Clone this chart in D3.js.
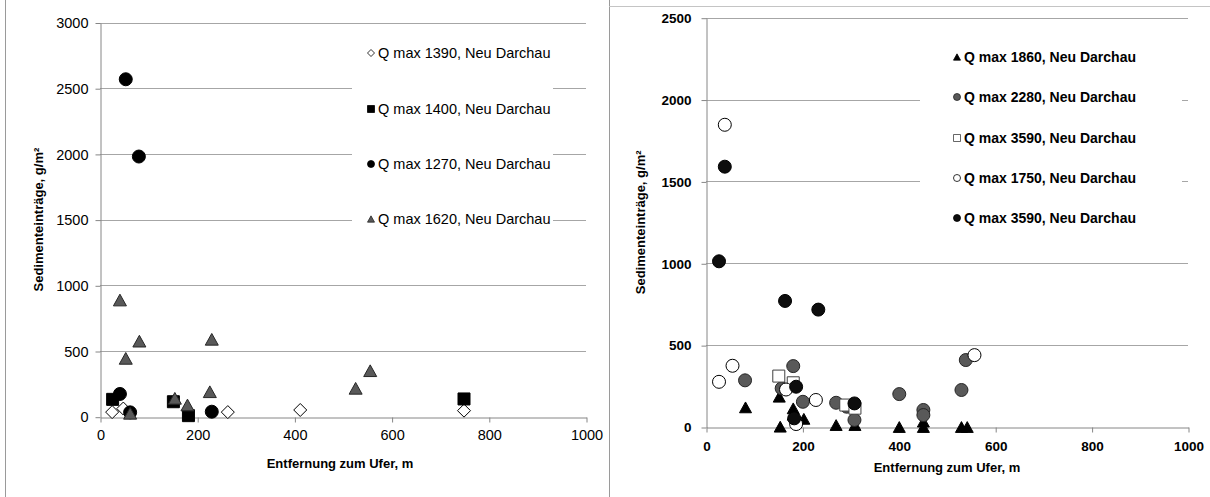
<!DOCTYPE html>
<html>
<head>
<meta charset="utf-8">
<script src="https://cdn.jsdelivr.net/npm/d3@7"></script>
<style>
  body { margin: 0; background: #fff; }
  text { font-family: "Liberation Sans", Arial, sans-serif; }
</style>
</head>
<body>
<div id="chart"></div>
<script>
// ---- data: left chart (Entfernung m, Sedimenteintrag g/m²)
var xTicks = [0, 200, 400, 600, 800, 1000];
var leftYTicks = [0, 500, 1000, 1500, 2000, 2500, 3000];
var rightYTicks = [0, 500, 1000, 1500, 2000, 2500];

var q1390 = [[25, 35], [48, 62], [263, 35], [412, 51], [749, 46]];
var q1400 = [[26, 132], [151, 114], [182, 8], [749, 135]];
var q1270 = [[53, 2568], [80, 1980], [41, 173], [62, 33], [230, 38]];
var q1620 = [[41, 888], [53, 444], [81, 575], [230, 589], [226, 190], [154, 140], [180, 89], [62, 26], [556, 350], [526, 216]];

// ---- data: right chart
var q1860 = [[82, 120], [152, 185], [154, 2], [181, 114], [181, 75], [203, 50], [270, 12], [309, 12], [401, 0], [451, 33], [451, 0], [530, 0], [542, 0]];
var q2280 = [[81, 285], [181, 372], [157, 236], [201, 154], [270, 148], [292, 124], [308, 43], [401, 201], [451, 104], [451, 73], [530, 226], [539, 409]];
var q3590a = [[151, 311], [181, 270], [290, 134], [309, 115]];
var q1750 = [[39, 1846], [27, 276], [55, 374], [166, 229], [187, 18], [228, 165], [557, 439]];
var q3590b = [[27, 1012], [39, 1590], [164, 770], [233, 717], [187, 246], [183, 53], [308, 144]];

var W = 1210, H = 497;
var svg = d3.select("#chart").append("svg")
  .attr("width", W).attr("height", H);

// marker paths centred on 0,0
function shape(type, s) {
  var h = s / 2;
  if (type == "circle") return d3.symbol(d3.symbolCircle, Math.PI * h * h)();
  if (type == "square") return "M" + (-h) + "," + (-h) + "h" + s + "v" + s + "h" + (-s) + "Z";
  if (type == "diamond") return "M0," + (-h) + "L" + h + ",0L0," + h + "L" + (-h) + ",0Z";
  // triangle
  var t = s * 0.9;
  return "M0," + (-t / 2) + "L" + h + "," + (t / 2) + "L" + (-h) + "," + (t / 2) + "Z";
}

// frames
svg.append("line").attr("x1", 5.5).attr("x2", 5.5).attr("y1", 0).attr("y2", H).attr("stroke", "#9a9a9a");
svg.append("line").attr("x1", 609.5).attr("x2", 609.5).attr("y1", 0).attr("y2", H).attr("stroke", "#9a9a9a");
svg.append("line").attr("x1", 609).attr("x2", W).attr("y1", 6.5).attr("y2", 6.5).attr("stroke", "#c4c4c4");

function drawChart(cfg) {
  var x = d3.scaleLinear().domain([0, 1000]).range([cfg.left, cfg.right]);
  var y = d3.scaleLinear().domain([0, cfg.ymax]).range([cfg.bottom, cfg.top]);
  var g = svg.append("g");

  // gridlines
  g.selectAll(".grid").data(cfg.yTicks.filter(d => d > 0)).enter().append("line")
    .attr("x1", cfg.left).attr("x2", cfg.right)
    .attr("y1", d => Math.round(y(d)) + 0.5).attr("y2", d => Math.round(y(d)) + 0.5)
    .attr("stroke", "#a6a6a6");

  // y axis
  var ya = g.append("g")
    .attr("transform", "translate(" + (Math.round(cfg.left) + 0.5) + ",0.5)")
    .call(d3.axisLeft(y).tickValues(cfg.yTicks).tickFormat(d3.format("d"))
      .tickSize(5).tickPadding(cfg.ytPad).tickSizeOuter(0));
  ya.select(".domain").attr("stroke", "#868686");
  ya.selectAll(".tick line").attr("stroke", "#868686");
  ya.selectAll("text").style("font-size", cfg.fs + "px").style("font-weight", cfg.bold ? "bold" : "normal")
    .attr("fill", "#000").style("font-family", '"Liberation Sans", Arial, sans-serif');

  // x axis
  var xa = g.append("g")
    .attr("transform", "translate(0.5," + (Math.round(cfg.bottom) + 0.5) + ")")
    .call(d3.axisBottom(x).tickValues(xTicks).tickFormat(d3.format("d"))
      .tickSize(5).tickPadding(cfg.xtPad).tickSizeOuter(0));
  xa.select(".domain").attr("stroke", "#868686");
  xa.selectAll(".tick line").attr("stroke", "#868686");
  xa.selectAll("text").style("font-size", cfg.fs + "px").style("font-weight", cfg.bold ? "bold" : "normal")
    .attr("fill", "#000").style("font-family", '"Liberation Sans", Arial, sans-serif');

  // axis titles
  g.append("text")
    .attr("transform", "translate(" + cfg.yTitleX + "," + ((cfg.top + cfg.bottom) / 2) + ") rotate(-90)")
    .attr("text-anchor", "middle").attr("dy", "0.35em")
    .style("font-size", "13px").style("font-weight", "bold")
    .text("Sedimenteinträge, g/m²");
  g.append("text")
    .attr("x", cfg.xTitleX).attr("y", cfg.xTitleY)
    .attr("text-anchor", "middle").attr("dy", "0.35em")
    .style("font-size", "13px").style("font-weight", "bold")
    .text("Entfernung zum Ufer, m");

  // legend box covers gridlines
  g.append("rect")
    .attr("x", cfg.leg.x0).attr("y", cfg.leg.y0)
    .attr("width", cfg.leg.w).attr("height", cfg.leg.h)
    .attr("fill", "#fff");

  // points
  cfg.series.forEach(function (s) {
    g.append("g").selectAll("path").data(s.data).enter().append("path")
      .attr("transform", d => "translate(" + x(d[0]) + "," + y(d[1]) + ")")
      .attr("d", shape(s.type, s.size))
      .attr("fill", s.fill).attr("stroke", s.stroke).attr("stroke-width", 1);
  });

  // legend
  var lg = g.append("g").selectAll("g").data(cfg.series).enter().append("g")
    .attr("transform", (d, i) => "translate(" + cfg.leg.mx + "," + cfg.leg.ys[i] + ")");
  lg.append("path")
    .attr("d", d => shape(d.type, 7))
    .attr("fill", d => d.fill).attr("stroke", d => d.stroke).attr("stroke-width", 0.8);
  lg.append("text")
    .attr("x", cfg.leg.tx).attr("dy", "0.35em")
    .style("font-size", cfg.leg.fs + "px").style("font-weight", cfg.bold ? "bold" : "normal")
    .text(d => d.name);
}

drawChart({
  left: 100, right: 586, top: 22.5, bottom: 416.7, ymax: 3000,
  yTicks: leftYTicks, fs: 14.5, bold: false, ytPad: 7, xtPad: 7,
  yTitleX: 38, xTitleX: 340, xTitleY: 463,
  leg: { x0: 352, y0: 30, w: 201, h: 210, mx: 371, tx: 7, fs: 14.5, ys: [53, 109, 164, 219] },
  series: [
    { name: "Q max 1390, Neu Darchau", data: q1390, type: "diamond", size: 13, fill: "#fff", stroke: "#000" },
    { name: "Q max 1400, Neu Darchau", data: q1400, type: "square", size: 12, fill: "#000", stroke: "#000" },
    { name: "Q max 1270, Neu Darchau", data: q1270, type: "circle", size: 13, fill: "#000", stroke: "#000" },
    { name: "Q max 1620, Neu Darchau", data: q1620, type: "triangle", size: 13, fill: "#595959", stroke: "#262626" }
  ]
});

drawChart({
  left: 706, right: 1188, top: 17.7, bottom: 427, ymax: 2500,
  yTicks: rightYTicks, fs: 13.5, bold: true, ytPad: 10, xtPad: 9,
  yTitleX: 640, xTitleX: 947, xTitleY: 467,
  leg: { x0: 920, y0: 35, w: 262, h: 205, mx: 957, tx: 7, fs: 14, ys: [57, 97, 138, 178, 218] },
  series: [
    { name: "Q max 1860, Neu Darchau", data: q1860, type: "triangle", size: 12, fill: "#000", stroke: "#000" },
    { name: "Q max 2280, Neu Darchau", data: q2280, type: "circle", size: 13, fill: "#595959", stroke: "#262626" },
    { name: "Q max 3590, Neu Darchau", data: q3590a, type: "square", size: 12, fill: "#fff", stroke: "#404040" },
    { name: "Q max 1750, Neu Darchau", data: q1750, type: "circle", size: 13, fill: "#fff", stroke: "#000" },
    { name: "Q max 3590, Neu Darchau", data: q3590b, type: "circle", size: 13, fill: "#0d0d0d", stroke: "#000" }
  ]
});
</script>
</body>
</html>
